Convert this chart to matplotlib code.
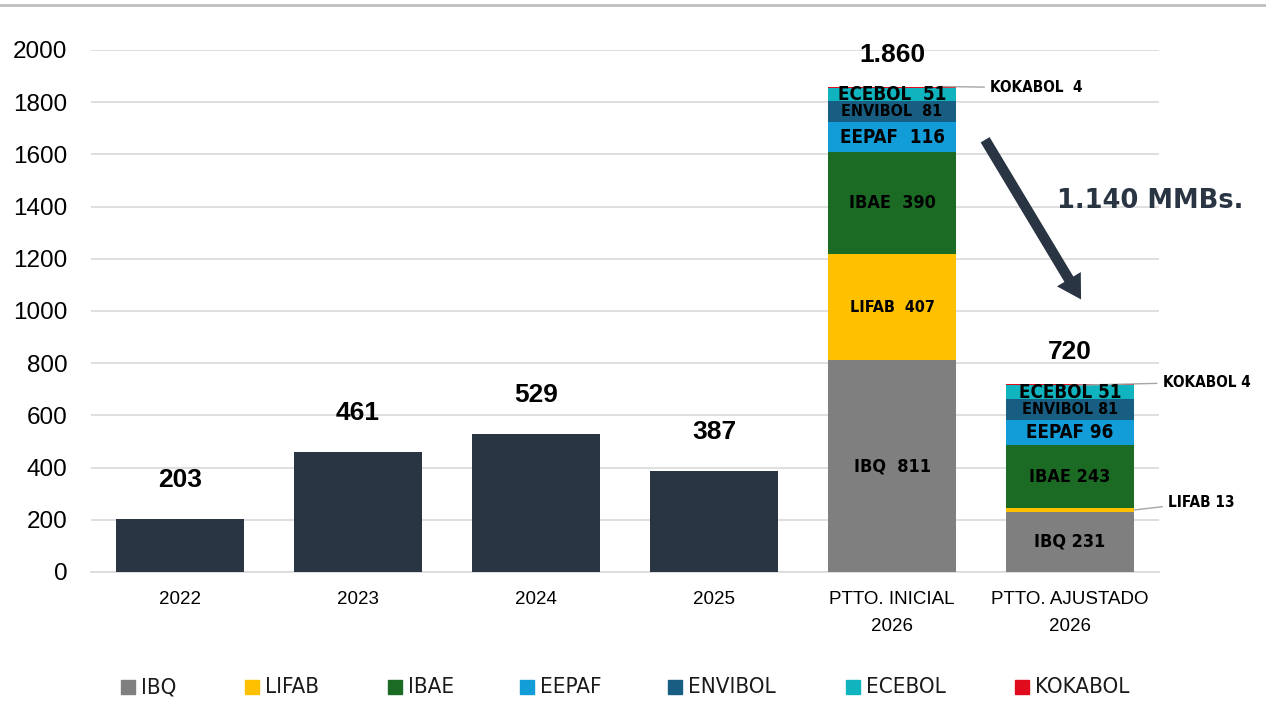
import numpy as np
import matplotlib.pyplot as plt
from matplotlib.lines import Line2D
from matplotlib.patches import Rectangle
from matplotlib import font_manager

plt.rcParams['font.family'] = ['Liberation Sans', 'DejaVu Sans']

# data
years = ['2022', '2023', '2024', '2025']
hist_vals = [203, 461, 529, 387]
tick_labels = ['2022', '2023', '2024', '2025', 'PTTO. INICIAL\n2026', 'PTTO. AJUSTADO\n2026']
companies = ['IBQ', 'LIFAB', 'IBAE', 'EEPAF', 'ENVIBOL', 'ECEBOL', 'KOKABOL']
ptto_inicial = [811, 407, 390, 116, 81, 51, 4]
ptto_ajustado = [231, 13, 243, 96, 81, 51, 4]
total_labels = ['1.860', '720']
reduction_text = '1.140 MMBs.'

colors = ['#7F7F7F', '#FFC000', '#1C6B25', '#129CD8', '#175E82', '#10B4BE', '#E00B1C']
dark = '#2A3544'

names = {f.name for f in font_manager.fontManager.ttflist}
narrow = 'Liberation Sans Narrow' if 'Liberation Sans Narrow' in names else 'DejaVu Sans'
cond = dict(family=narrow, stretch='condensed')

fig = plt.figure(figsize=(12.66, 7.21), dpi=100)
ax = fig.add_axes([0.0719, 0.2067, 0.8436, 0.724])
ax.set_xlim(-0.5, 5.5)
ax.set_ylim(0, 2000)
w = 0.72

# historical bars
xh = np.arange(len(years))
ax.bar(xh, hist_vals, width=w, color=dark, zorder=3)
for x, v in zip(xh, hist_vals):
    ax.annotate(str(v), (x, v), xytext=(0, 28), textcoords='offset points',
                ha='center', va='center', fontsize=19, fontweight='bold', color='black')

# stacked bars
seg_fs = {'IBQ': 13, 'LIFAB': 11.5, 'IBAE': 13, 'EEPAF': 13.5, 'ENVIBOL': 11.5, 'ECEBOL': 13.5}
for xi, vals, tot in [(4, ptto_inicial, total_labels[0]), (5, ptto_ajustado, total_labels[1])]:
    bottom = 0
    for name, v, c in zip(companies, vals, colors):
        ax.bar(xi, v, width=w, bottom=bottom, color=c, zorder=3)
        if v >= 40:
            sep = '  ' if xi == 4 else ' '
            ax.text(xi, bottom + v / 2, f'{name}{sep}{v}', ha='center', va='center',
                    fontsize=seg_fs[name], fontweight='bold', zorder=4, **cond)
        bottom += v
    ax.annotate(tot, (xi, bottom), xytext=(0, 23), textcoords='offset points',
                ha='center', va='center', fontsize=19, fontweight='bold', color='black',
                annotation_clip=False)

# callouts
top_i = sum(ptto_inicial)
ax.annotate(f'KOKABOL  {ptto_inicial[-1]}', xy=(4.27, top_i), xytext=(4.55, top_i - 5),
            ha='left', va='center', fontsize=11, fontweight='bold', **cond,
            arrowprops=dict(arrowstyle='-', color='#A6A6A6', lw=1, shrinkA=2, shrinkB=0))
top_a = sum(ptto_ajustado)
ax.annotate(f'KOKABOL {ptto_ajustado[-1]}', xy=(5.0, top_a - 4), xytext=(5.52, top_a + 8),
            ha='left', va='center', fontsize=11, fontweight='bold', annotation_clip=False,
            **cond,
            arrowprops=dict(arrowstyle='-', color='#A6A6A6', lw=1, shrinkA=2, shrinkB=0))
lifab_y = ptto_ajustado[0] + ptto_ajustado[1] / 2
ax.annotate(f'LIFAB {ptto_ajustado[1]}', xy=(5.36, lifab_y), xytext=(5.55, lifab_y + 30),
            ha='left', va='center', fontsize=11, fontweight='bold', annotation_clip=False,
            **cond,
            arrowprops=dict(arrowstyle='-', color='#A6A6A6', lw=1, shrinkA=2, shrinkB=0))

# reduction arrow
ax.annotate('', xy=(5.07, 1035), xytext=(4.515, 1665),
            arrowprops=dict(arrowstyle='simple,head_width=2.0,head_length=1.7,tail_width=0.75',
                            color=dark, lw=0), annotation_clip=False)
ax.text(5.45, 1420, reduction_text, ha='center', va='center', fontsize=18.5,
        fontweight='bold', color=dark, family='DejaVu Sans')

# axes styling
ax.set_xticks(range(len(tick_labels)))
ax.set_xticklabels(tick_labels, fontsize=13.5, linespacing=1.75)
ax.set_yticks(np.arange(0, 2001, 200))
ax.tick_params(axis='y', labelsize=17.5, length=0, pad=17)
ax.tick_params(axis='x', length=0, pad=14)
ax.grid(axis='y', color='#D9D9D9', lw=1.2, zorder=0)
for s in ['top', 'right', 'left']:
    ax.spines[s].set_visible(False)
ax.spines['bottom'].set_color('#D9D9D9')
ax.spines['bottom'].set_linewidth(1.2)

# legend, laid out like the original (pixel positions of the swatches)
W, H = 1266, 721
leg_x = [121, 245, 388, 520, 668, 846, 1015]
leg_y = 687
for x, name, c in zip(leg_x, companies, colors):
    fig.add_artist(Rectangle((x / W, (H - leg_y - 7) / H), 14 / W, 14 / H,
                             color=c, transform=fig.transFigure))
    fig.text((x + 20) / W, (H - leg_y) / H, name, ha='left', va='center',
             fontsize=16, color='#1a1a1a', **cond)

# top border line
fig.add_artist(Line2D([0, 1], [0.993, 0.993], color='#BFBFBF', lw=2, transform=fig.transFigure))

fig.savefig('out.png', dpi=100)
